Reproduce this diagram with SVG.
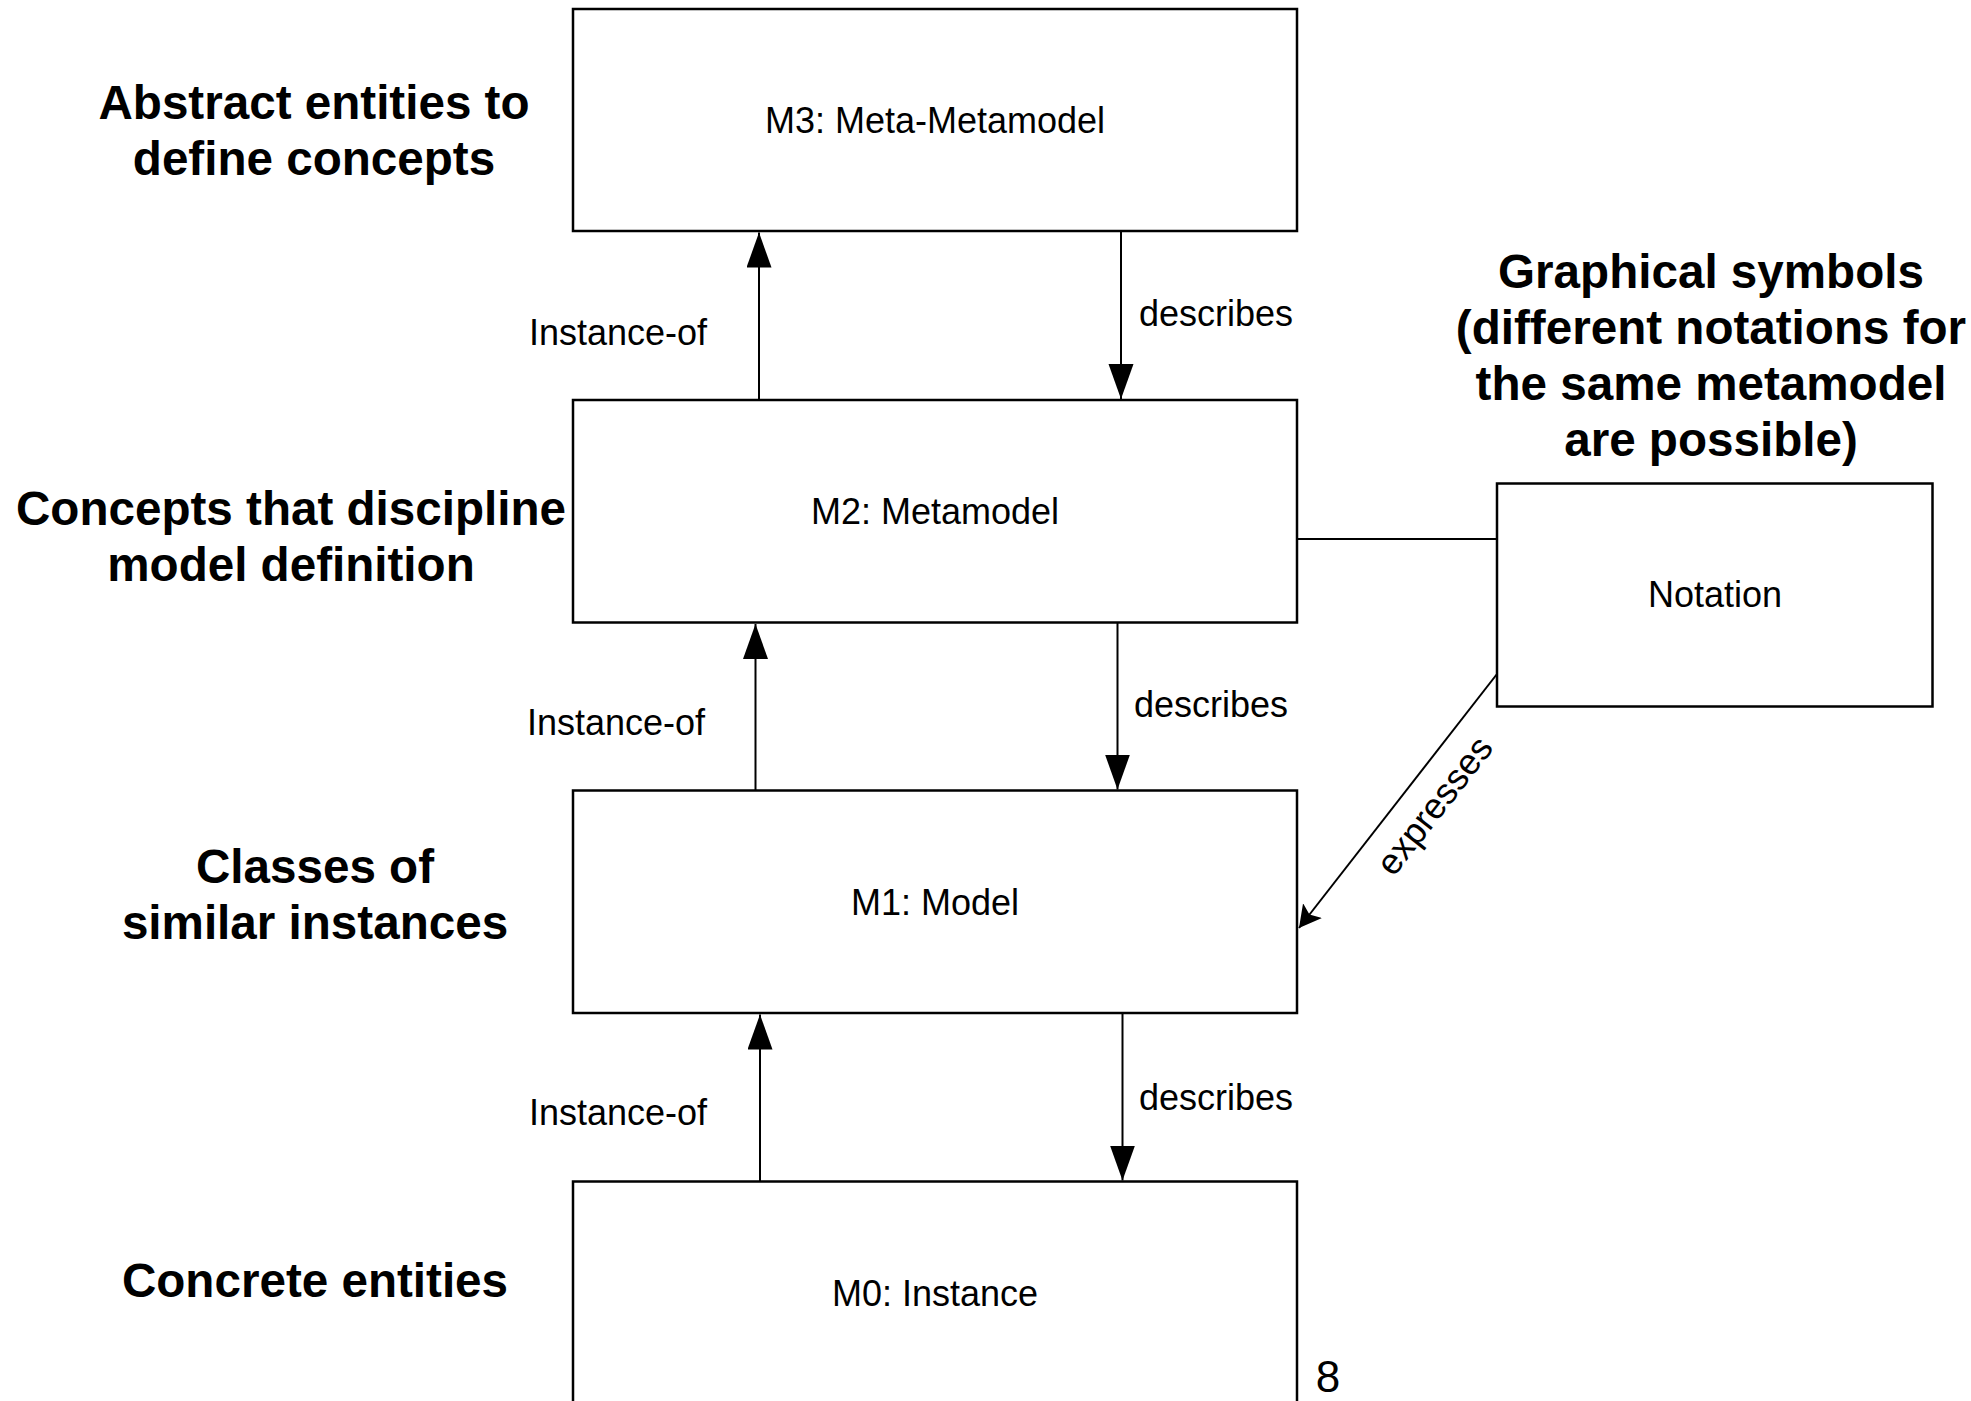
<svg xmlns="http://www.w3.org/2000/svg" width="1971" height="1401" viewBox="0 0 1971 1401">
  <style>
    .box { fill: #ffffff; stroke: #000000; stroke-width: 2.5; }
    .conn { fill: none; stroke: #000000; stroke-width: 2; }
    .lbl { font-family: "Liberation Sans", Arial, sans-serif; font-size: 36px; fill: #000000; }
    .mid { text-anchor: middle; }
    .head { font-family: "Liberation Sans", Arial, sans-serif; font-size: 47.6px; font-weight: bold; fill: #000000; text-anchor: middle; }
  </style>
  <defs>
    <marker id="arrow" markerUnits="userSpaceOnUse" markerWidth="36" markerHeight="26" refX="35" refY="12.5" orient="auto" viewBox="0 0 36 26">
      <path d="M0,0 L35,12.5 L0,25 Z" fill="#000000"/>
    </marker>
    <marker id="arrow-small" markerUnits="userSpaceOnUse" markerWidth="24" markerHeight="26" refX="22" refY="12" orient="auto" viewBox="0 0 24 26">
      <path d="M0,0 L22,12 L0,24 L5,12 Z" fill="#000000"/>
    </marker>
  </defs>

  <rect width="1971" height="1401" fill="#ffffff"/>

  <!-- level descriptions -->
  <g id="level-descriptions">
    <text class="head" x="314" y="119">Abstract entities to</text>
    <text class="head" x="314" y="175">define concepts</text>
    <text class="head" x="291" y="525">Concepts that discipline</text>
    <text class="head" x="291" y="581">model definition</text>
    <text class="head" x="315" y="883">Classes of</text>
    <text class="head" x="315" y="939">similar instances</text>
    <text class="head" x="315" y="1297">Concrete entities</text>
    <text class="head" x="1711" y="288">Graphical symbols</text>
    <text class="head" x="1711" y="344">(different notations for</text>
    <text class="head" x="1711" y="400">the same metamodel</text>
    <text class="head" x="1711" y="456">are possible)</text>
  </g>

  <!-- connectors -->
  <g id="connectors">
    <line class="conn" x1="759" y1="400" x2="759" y2="232.5" marker-end="url(#arrow)"/>
    <line class="conn" x1="755.5" y1="790.5" x2="755.5" y2="624" marker-end="url(#arrow)"/>
    <line class="conn" x1="760" y1="1181.5" x2="760" y2="1014.5" marker-end="url(#arrow)"/>
    <line class="conn" x1="1121" y1="231" x2="1121" y2="399" marker-end="url(#arrow)"/>
    <line class="conn" x1="1117.5" y1="622.5" x2="1117.5" y2="789.5" marker-end="url(#arrow)"/>
    <line class="conn" x1="1122.5" y1="1013" x2="1122.5" y2="1180.5" marker-end="url(#arrow)"/>
    <line class="conn" x1="1297" y1="539" x2="1497" y2="539"/>
    <line class="conn" x1="1497" y1="674" x2="1299" y2="928" marker-end="url(#arrow-small)"/>

    <text class="lbl" x="529" y="345">Instance-of</text>
    <text class="lbl" x="527" y="735">Instance-of</text>
    <text class="lbl" x="529" y="1125">Instance-of</text>
    <text class="lbl" x="1139" y="326">describes</text>
    <text class="lbl" x="1134" y="717">describes</text>
    <text class="lbl" x="1139" y="1110">describes</text>
    <text class="lbl mid" transform="translate(1444,813) rotate(-52)">expresses</text>
  </g>

  <!-- model layers -->
  <g id="m3">
    <rect class="box" x="573" y="9" width="724" height="222"/>
    <text class="lbl mid" x="935" y="133">M3: Meta-Metamodel</text>
  </g>
  <g id="m2">
    <rect class="box" x="573" y="400" width="724" height="222.5"/>
    <text class="lbl mid" x="935" y="524">M2: Metamodel</text>
  </g>
  <g id="m1">
    <rect class="box" x="573" y="790.5" width="724" height="222.5"/>
    <text class="lbl mid" x="935" y="915">M1: Model</text>
  </g>
  <g id="m0">
    <rect class="box" x="573" y="1181.5" width="724" height="223"/>
    <text class="lbl mid" x="935" y="1306">M0: Instance</text>
  </g>
  <g id="notation">
    <rect class="box" x="1497" y="483.5" width="435.5" height="223"/>
    <text class="lbl mid" x="1715" y="607">Notation</text>
  </g>

  <!-- page number -->
  <text x="1328" y="1392" font-family="'Liberation Sans', Arial, sans-serif" font-size="44" text-anchor="middle" fill="#000000">8</text>
</svg>
